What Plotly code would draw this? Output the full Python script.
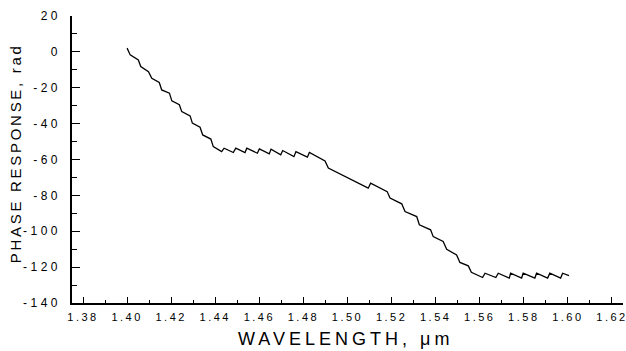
import plotly.graph_objects as go

# Phase response of the device versus wavelength (polyline vertices)
wavelength_um = [
    1.4000, 1.4014, 1.4051, 1.4062, 1.4097, 1.4112, 1.4146, 1.4157, 1.4192, 1.4203,
    1.4237, 1.4248, 1.4286, 1.4296, 1.4331, 1.4343, 1.4380, 1.4391,
    1.4429, 1.4440, 1.4482, 1.4493, 1.4535, 1.4543, 1.4591, 1.4600, 1.4645, 1.4653,
    1.4697, 1.4706, 1.4757, 1.4766, 1.4818, 1.4827, 1.4898, 1.4913,
    1.5094, 1.5105, 1.5180, 1.5193, 1.5246, 1.5261, 1.5314, 1.5326, 1.5377, 1.5389,
    1.5434, 1.5450, 1.5495, 1.5510, 1.5548, 1.5562, 1.5613,
    1.5624, 1.5673, 1.5684, 1.5734, 1.5740, 1.5790, 1.5797, 1.5850, 1.5858, 1.5908,
    1.5918, 1.5967, 1.5976, 1.6005,
]
phase_rad = [
    2.1, -1.7, -4.5, -8.2, -11.0, -14.7, -17.1, -21.2, -23.0, -27.3,
    -29.5, -33.3, -35.7, -39.7, -42.0, -46.3, -48.6, -52.8,
    -55.6, -53.7, -56.1, -53.7, -56.1, -53.7, -56.5, -54.1, -56.9, -54.2,
    -57.4, -55.0, -58.4, -55.6, -58.7, -56.1, -60.8, -64.8,
    -76.0, -73.2, -77.9, -81.5, -84.7, -89.0, -91.8, -96.4, -99.2, -103.0,
    -105.7, -110.0, -113.2, -117.4, -119.3, -122.9, -125.8,
    -123.4, -125.8, -123.4, -126.1, -123.4, -126.1, -123.4, -126.1, -123.4, -126.1,
    -123.4, -126.1, -123.4, -124.7,
]

x_tick_vals = [1.38, 1.40, 1.42, 1.44, 1.46, 1.48, 1.50, 1.52, 1.54, 1.56, 1.58, 1.60, 1.62]
x_tick_text = ["1.38", "1.40", "1.42", "1.44", "1.46", "1.48", "1.50", "1.52",
               "1.54", "1.56", "1.58", "1.60", "1.62"]
y_tick_vals = [-140, -120, -100, -80, -60, -40, -20, 0, 20]
y_tick_text = ["-140", "-120", "-100", "-80", "-60", "-40", "-20", "0", "20"]

FONT = "Liberation Sans, Arial, sans-serif"

fig = go.Figure()
fig.add_trace(go.Scatter(
    x=wavelength_um, y=phase_rad, mode="lines",
    line=dict(color="black", width=1.3),
    showlegend=False, hoverinfo="skip",
))

axis_common = dict(
    showline=True, linecolor="black", linewidth=1.5,
    showgrid=False, zeroline=False, mirror=False,
    ticks="inside", tickcolor="black", tickwidth=1.2,
)

fig.update_xaxes(
    range=[1.375, 1.625],
    tickmode="array", tickvals=x_tick_vals, ticktext=x_tick_text,
    ticklen=6, ticklabelstandoff=3,
    tickfont=dict(family=FONT, size=11, color="black"),
    minor=dict(dtick=0.01, tick0=1.37, ticks="inside", ticklen=3,
               tickcolor="black", tickwidth=1.2),
    **axis_common,
)
fig.update_yaxes(
    range=[-140, 20],
    tickmode="array", tickvals=y_tick_vals, ticktext=y_tick_text,
    ticklen=8, ticklabelstandoff=6,
    tickfont=dict(family=FONT, size=12, color="black"),
    minor=dict(dtick=10, tick0=0, ticks="inside", ticklen=5,
               tickcolor="black", tickwidth=1.2),
    **axis_common,
)

fig.add_annotation(
    text="WAVELENGTH, \u03bcm", xref="paper", yref="paper",
    x=0.4955, y=-0.125, xanchor="center", yanchor="middle",
    showarrow=False, font=dict(family=FONT, size=18, color="black"),
)
fig.add_annotation(
    text="PHASE RESPONSE, rad", xref="paper", yref="paper",
    x=-0.1034, y=0.521, xanchor="center", yanchor="middle", textangle=-90,
    showarrow=False, font=dict(family=FONT, size=15, color="black"),
)

fig.update_layout(
    width=626, height=351,
    margin=dict(l=72, r=3, t=16, b=48),
    paper_bgcolor="white", plot_bgcolor="white",
)

# Widen the letter spacing of tick labels and titles; right-align the
# y tick labels to a fixed edge left of the axis line.
spacing_js = """
var gd = document.getElementById('{plot_id}');
var Y_LABEL_RIGHT = 61;
function spread() {
  gd.querySelectorAll('.xtick text').forEach(function (t) {
    t.style.letterSpacing = '2.5px';
  });
  var base = gd.getBoundingClientRect().left;
  gd.querySelectorAll('.ytick text').forEach(function (t) {
    t.style.letterSpacing = '3.5px';
    var r = t.getBoundingClientRect();
    var dx = (base + Y_LABEL_RIGHT) - r.right;
    var x = parseFloat(t.getAttribute('x') || '0');
    t.setAttribute('x', x + dx);
  });
  gd.querySelectorAll('.annotation-text').forEach(function (t) {
    var s = t.textContent.indexOf('WAVE') === 0 ? '4px' : '2.7px';
    t.style.letterSpacing = s;
  });
}
spread();
if (gd.on) { gd.on('plotly_afterplot', spread); }
setTimeout(spread, 50);
"""

fig.write_html("out.html", post_script=spacing_js)
